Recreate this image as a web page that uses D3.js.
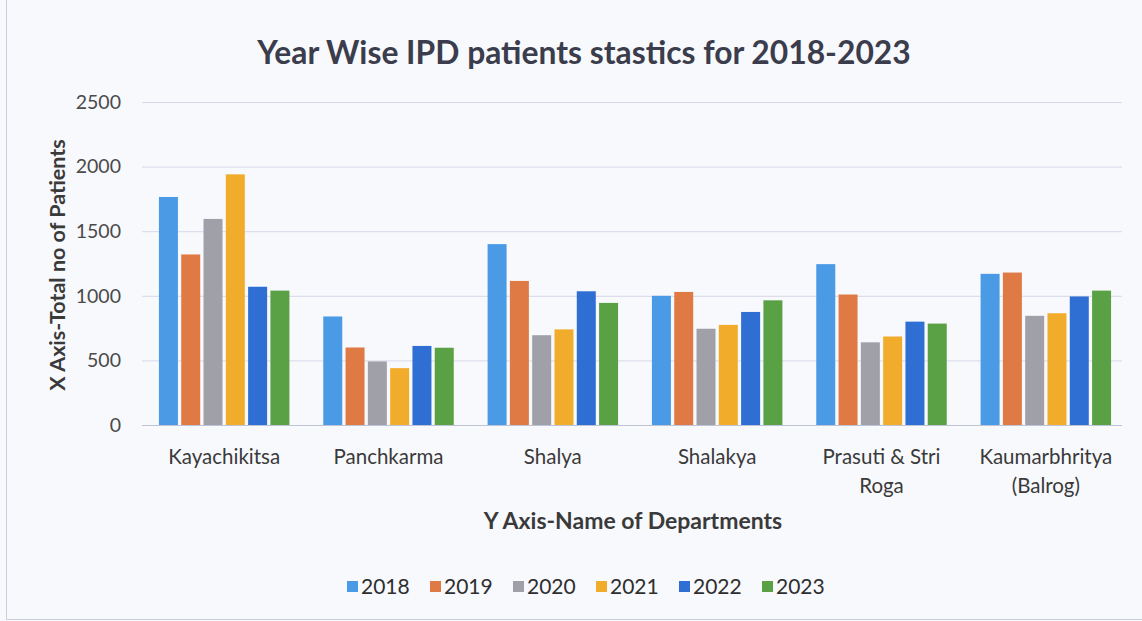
<!DOCTYPE html>
<html><head><meta charset="utf-8">
<script src="https://cdn.jsdelivr.net/npm/d3@7/dist/d3.min.js"></script>
<style>
html,body{margin:0;padding:0;background:#f8f9fd;}
text{font-family:Lato,"Open Sans",sans-serif;}
</style></head>
<body><svg id="c" width="1142" height="621"></svg>
<script>
const departments = ["Kayachikitsa","Panchkarma","Shalya","Shalakya","Prasuti & Stri Roga","Kaumarbhritya (Balrog)"];
const departmentLines = [["Kayachikitsa"],["Panchkarma"],["Shalya"],["Shalakya"],["Prasuti & Stri","Roga"],["Kaumarbhritya","(Balrog)"]];
const years = ["2018","2019","2020","2021","2022","2023"];
const v2018 = [1765, 840, 1400, 1000, 1245, 1170];
const v2019 = [1320, 600, 1115, 1030, 1010, 1180];
const v2020 = [1595, 492, 695, 745, 640, 845];
const v2021 = [1940, 440, 740, 775, 685, 865];
const v2022 = [1070, 612, 1035, 875, 800, 995];
const v2023 = [1040, 598, 945, 965, 785, 1040];
const seriesValues = [v2018, v2019, v2020, v2021, v2022, v2023];
const yTicks = [0, 500, 1000, 1500, 2000, 2500];
const colors = ["#4a9ae6","#e07a45","#a0a0a8","#f2ac2c","#2f6ed3","#5aa044"];

const svg = d3.select("#c");
// border
svg.append("path").attr("d","M6.5,0 V619.5 H1142").attr("fill","none").attr("stroke","#c9cde0").attr("stroke-width",1);

const m = {l:142, r:1128, t:102, b:425};
const x0 = d3.scaleBand().domain(departments).range([m.l, m.r]).paddingInner(0.206).paddingOuter(0.103);
const x1 = d3.scaleBand().domain(years).range([0, x0.bandwidth()]).paddingInner(0.148);
const y = d3.scaleLinear().domain([0,2500]).range([m.b, m.t]);

// gridlines
svg.append("g").selectAll("line").data(yTicks).join("line")
  .attr("x1", m.l).attr("x2", m.r - 6)
  .attr("y1", d=>y(d)+0.5).attr("y2", d=>y(d)+0.5)
  .attr("stroke", d=> d===0 ? "#bfc3d6" : "#d6d8e8").attr("stroke-width",1);

// y axis labels
const yAxis = d3.axisLeft(y).tickValues(yTicks).tickFormat(d3.format("d")).tickSize(0).tickPadding(0);
const ga = svg.append("g").attr("transform",`translate(${m.l-21},0)`).call(yAxis);
ga.select(".domain").remove();
ga.selectAll("text").attr("font-size",19.5).attr("fill","#4a4a4a").style("font-family","Lato,'Open Sans',sans-serif");

// bars
const groups = svg.append("g").selectAll("g").data(departments).join("g")
  .attr("transform", d=>`translate(${x0(d)},0)`);
groups.selectAll("rect").data((d,i)=>years.map((yr,j)=>({yr, v: seriesValues[j][i], j})))
  .join("rect")
  .attr("x", d=>x1(d.yr)).attr("width", x1.bandwidth())
  .attr("y", d=>y(d.v)).attr("height", d=>m.b - y(d.v))
  .attr("fill", d=>colors[d.j]);

// category labels
const xAxis = d3.axisBottom(x0).tickSize(0).tickFormat(()=>"");
const gx = svg.append("g").attr("transform",`translate(0,${m.b})`).call(xAxis);
gx.select(".domain").remove();
gx.selectAll(".tick").each(function(d,i){
  const t = d3.select(this).append("text").attr("text-anchor","middle").attr("fill","#3a3a3a")
    .attr("font-size",20.5);
  departmentLines[i].forEach((ln,k)=>{
    t.append("tspan").attr("x",0).attr("y", 39 + k*29).text(ln);
  });
});

// title
svg.append("text").attr("x",584).attr("y",64).attr("text-anchor","middle")
  .attr("font-size",31.8).attr("font-weight","bold").attr("fill","#3b3d4c")
  .text("Year Wise IPD patients stastics for 2018-2023");

// axis titles
svg.append("text").attr("transform","translate(65,265) rotate(-90)").attr("text-anchor","middle")
  .attr("font-size",21.5).attr("font-weight","bold").attr("fill","#3a3a3a")
  .text("X Axis-Total no of Patients");
svg.append("text").attr("x",633).attr("y",529).attr("text-anchor","middle")
  .attr("font-size",23).attr("font-weight","bold").attr("fill","#3a3a3a")
  .text("Y Axis-Name of Departments");

// legend
const lg = svg.append("g").selectAll("g").data(years).join("g")
  .attr("transform",(d,i)=>`translate(${347 + i*83},587)`);
lg.append("rect").attr("x",0).attr("y",-6).attr("width",11).attr("height",11).attr("fill",(d,i)=>colors[i]);
lg.append("text").attr("x",14).attr("y",7).attr("font-size",21).attr("fill","#2e2e2e").text(d=>d);
</script></body></html>
